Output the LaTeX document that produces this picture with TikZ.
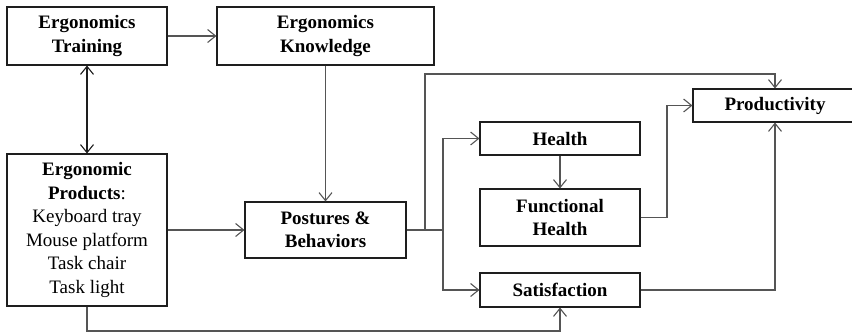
\documentclass[tikz,border=0pt]{standalone}
\usepackage{fontspec}
\setmainfont{Liberation Serif}
\usetikzlibrary{arrows.meta}
\definecolor{boxline}{HTML}{1E1E1E}
\definecolor{linkline}{HTML}{555555}
\begin{document}
\begin{tikzpicture}[x=1pt,y=-1pt,
  blk/.style={draw=boxline,line width=1.1pt,rectangle,inner sep=0pt,align=center,
    font=\fontsize{19}{23.5}\selectfont\bfseries,text=black},
  link/.style={draw=linkline,line width=1.4pt,-{Straight Barb[length=8pt,width=13pt,line width=1.1pt]}},
  plain/.style={draw=linkline,line width=1.4pt}]
\useasboundingbox (0,0) rectangle (852,333);

% boxes
\node[blk,minimum width=160pt,minimum height=58pt] (train) at (87,36) {Ergonomics\\Training};
\node[blk,minimum width=217pt,minimum height=58pt] (know) at (325.5,36) {Ergonomics\\Knowledge};
\node[blk,minimum width=160pt,minimum height=152pt] (prod) at (87,230)
  {Ergonomic\\Products\mdseries:\\\mdseries Keyboard tray\\\mdseries Mouse platform\\\mdseries Task chair\\\mdseries Task light};
\node[blk,minimum width=161pt,minimum height=56pt] (post) at (325.5,230) {Postures \&\\Behaviors};
\node[blk,minimum width=160pt,minimum height=33pt] (health) at (560,138.5) {Health};
\node[blk,minimum width=160pt,minimum height=57pt] (fh) at (560,217.5) {Functional\\Health};
\node[blk,minimum width=160pt,minimum height=34pt] (sat) at (560,290) {Satisfaction};
\node[blk,minimum width=164pt,minimum height=33pt] (pdy) at (775,105.5) {Productivity};

% junctions
\coordinate (jtop) at (425,230);
\coordinate (jmid) at (443,230);
\coordinate (jfh) at (667,217.5);
\coordinate (jlow) at (87,331);

% connectors
\draw[link] (train.east) -- (know.west);
\draw[plain,{Straight Barb[length=8pt,width=13pt,line width=1.1pt]}-{Straight Barb[length=8pt,width=13pt,line width=1.1pt]},draw=boxline,line width=1.1pt] (train.south) -- (prod.north);
\draw[link] (know.south) -- (post.north);
\draw[link] (prod.east) -- (post.west);
\draw[plain] (post.east) -- (jmid);
\draw[link] (jtop) -- (425,74) -| (pdy.north);
\draw[link] (jmid) |- (health.west);
\draw[link] (jmid) |- (sat.west);
\draw[link] (health.south) -- (fh.north);
\draw[link] (fh.east) -- (jfh) |- (pdy.west);
\draw[link] (sat.east) -| (pdy.south);
\draw[link] (prod.south) -- (jlow) -| (sat.south);
\end{tikzpicture}
\end{document}
